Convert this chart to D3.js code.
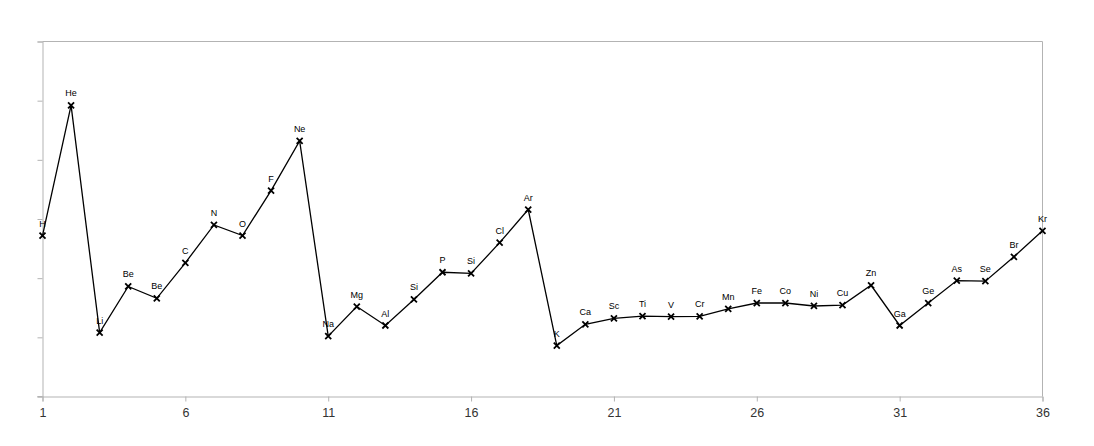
<!DOCTYPE html>
<html><head><meta charset="utf-8">
<script src="https://cdn.jsdelivr.net/npm/d3@7"></script>
<style>body{margin:0;background:#fff}svg{display:block}</style>
</head><body>
<script>
const atomicNumbers = d3.range(1, 37);
const symbols = ["H","He","Li","Be","Be","C","N","O","F","Ne","Na","Mg","Al","Si","P","Si","Cl","Ar","K","Ca","Sc","Ti","V","Cr","Mn","Fe","Co","Ni","Cu","Zn","Ga","Ge","As","Se","Br","Kr"];
const energies = [13.6,24.6,5.4,9.3,8.3,11.3,14.5,13.6,17.4,21.6,5.1,7.6,6.0,8.2,10.5,10.4,13.0,15.8,4.3,6.1,6.6,6.8,6.75,6.77,7.4,7.9,7.9,7.65,7.73,9.4,6.0,7.9,9.8,9.75,11.8,14.0];
const xTicks = [1,6,11,16,21,26,31,36];
const yTicks = [0,5,10,15,20,25,30];

const W = 1094, H = 446;
const m = {left:42.5, right:1042.5, top:41.5, bottom:396.5};
const svg = d3.select("body").append("svg").attr("width", W).attr("height", H);
const x = d3.scaleLinear().domain([1,36]).range([m.left, m.right]);
const y = d3.scaleLinear().domain([0,30]).range([m.bottom, m.top]);
const gray = "#b3b3b3";

// frame top & right
svg.append("line").attr("x1", m.left).attr("x2", m.right).attr("y1", m.top).attr("y2", m.top).attr("stroke", gray);
svg.append("line").attr("x1", m.right).attr("x2", m.right).attr("y1", m.top).attr("y2", m.bottom).attr("stroke", gray);

const xa = svg.append("g").attr("transform", `translate(0,${m.bottom})`)
  .call(d3.axisBottom(x).tickValues(xTicks).tickSize(5).tickPadding(7).tickFormat(d3.format("d")));
const ya = svg.append("g").attr("transform", `translate(${m.left},0)`)
  .call(d3.axisLeft(y).tickValues(yTicks).tickSize(5).tickFormat(""));
[xa, ya].forEach(g => {
  g.select(".domain").attr("stroke", gray);
  g.selectAll(".tick line").attr("stroke", gray);
  g.selectAll("text").attr("fill", "#333").style("font-family", "Liberation Sans, Arial, sans-serif").style("font-size", "12.5px");
});
// extend x-axis line left to meet y tick
svg.append("line").attr("x1", m.left-5).attr("x2", m.left).attr("y1", m.bottom).attr("y2", m.bottom).attr("stroke", gray);

const pts = atomicNumbers.map((n,i) => ({n, s:symbols[i], v:energies[i]}));
svg.append("path").datum(pts)
  .attr("d", d3.line().x(d => x(d.n)).y(d => y(d.v)))
  .attr("fill","none").attr("stroke","#000").attr("stroke-width",1.3);

const r = 3;
svg.append("g").selectAll("path").data(pts).join("path")
  .attr("d", d => `M${x(d.n)-r},${y(d.v)-r}L${x(d.n)+r},${y(d.v)+r}M${x(d.n)-r},${y(d.v)+r}L${x(d.n)+r},${y(d.v)-r}`)
  .attr("stroke","#000").attr("stroke-width",1.8);

svg.append("g").selectAll("text").data(pts).join("text")
  .attr("x", d => x(d.n)).attr("y", d => y(d.v) - 9)
  .attr("text-anchor","middle")
  .style("font-family","Liberation Sans, Arial, sans-serif").style("font-size","9px")
  .attr("fill","#000")
  .text(d => d.s);
</script>
</body></html>
